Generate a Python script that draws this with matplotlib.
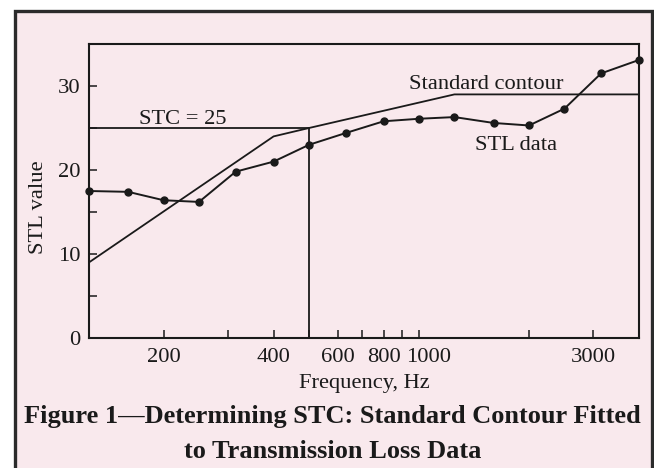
import matplotlib
matplotlib.use("Agg")
import matplotlib.pyplot as plt
from matplotlib.patches import Rectangle
from matplotlib.ticker import FixedLocator, FixedFormatter, NullFormatter
from matplotlib.transforms import ScaledTranslation

# 1/3-octave band centre frequencies (Hz)
freqs = [125, 160, 200, 250, 315, 400, 500, 630, 800, 1000,
         1250, 1600, 2000, 2500, 3150, 4000]
# measured STL values
stl = [17.5, 17.4, 16.4, 16.2, 19.8, 21.0, 23.0, 24.4, 25.8, 26.1,
       26.3, 25.6, 25.3, 27.3, 31.5, 33.1]
# STC 25 reference contour
contour_freqs = [125, 400, 500, 1250, 4000]
contour_vals = [9, 24, 25, 29, 29]
stc = 25
stc_freq = 500

major_ticks = [200, 400, 600, 800, 1000, 3000]
minor_ticks = [300, 500, 700, 900, 2000]

pink = "#f9e9ed"
ink = "#1a1a1a"
fs = 16.2

plt.rcParams["font.family"] = ["Liberation Serif", "DejaVu Serif"]

fig = plt.figure(figsize=(6.54, 4.68), dpi=100, facecolor="white")

# outer frame
frame = Rectangle((14.5 / 654, -0.02), (651.5 - 14.5) / 654, 1.02 - 10.5 / 468,
                  transform=fig.transFigure, facecolor=pink, edgecolor="#2b2b2b",
                  linewidth=2.4, zorder=-10)
fig.patches.append(frame)

ax = fig.add_axes([89 / 654, 1 - 338 / 468, (639 - 89) / 654, (338 - 44) / 468])
ax.set_facecolor(pink)

ax.plot(freqs, stl, color=ink, lw=1.4, marker="o", ms=5, clip_on=False, zorder=3)
ax.plot(contour_freqs, contour_vals, color=ink, lw=1.3, zorder=2)
ax.plot([freqs[0], stc_freq], [stc, stc], color=ink, lw=1.3)
ax.plot([stc_freq, stc_freq], [0, stc], color=ink, lw=1.3)

ax.set_xscale("log")
ax.set_xlim(freqs[0], freqs[-1])
ax.set_ylim(0, 35)

ax.xaxis.set_major_locator(FixedLocator(major_ticks))
ax.xaxis.set_minor_locator(FixedLocator(minor_ticks))
ax.xaxis.set_major_formatter(FixedFormatter([str(t) for t in major_ticks]))
ax.xaxis.set_minor_formatter(NullFormatter())
ax.set_yticks([0, 10, 20, 30])
ax.set_yticks([5, 15, 25], minor=True)

ax.tick_params(which="both", direction="in", length=6, width=1.1, colors=ink,
               labelsize=fs)
ax.tick_params(axis="x", pad=7)
ax.tick_params(axis="y", pad=6)
for s in ax.spines.values():
    s.set_linewidth(1.5)
    s.set_color(ink)

# nudge "1000" right so it clears "800", as in the original
for tick, val in zip(ax.xaxis.get_major_ticks(len(major_ticks)), major_ticks):
    if val == 1000:
        tick.label1.set_transform(tick.label1.get_transform()
                                  + ScaledTranslation(7 / 72, 0, fig.dpi_scale_trans))

ax.set_xlabel("Frequency, Hz", fontsize=fs, color=ink, labelpad=5)
ax.set_ylabel("STL value", fontsize=fs, color=ink)
ax.yaxis.set_label_coords(-0.074, 0.446)

ax.text(225, 25.5, "STC = 25", ha="center", va="baseline", fontsize=fs, color=ink)
ax.text(940, 29.7, "Standard contour", ha="left", va="baseline", fontsize=fs, color=ink)
ax.text(1420, 22.4, "STL data", ha="left", va="baseline", fontsize=fs, color=ink)

fig.text(0.508, 1 - 416 / 468, "Figure 1\u2014Determining STC: Standard Contour Fitted",
         ha="center", va="center", fontsize=19, fontweight="bold", color=ink)
fig.text(0.508, 1 - 451 / 468, "to Transmission Loss Data",
         ha="center", va="center", fontsize=19, fontweight="bold", color=ink)

fig.savefig("out.png", dpi=100, facecolor="white")
